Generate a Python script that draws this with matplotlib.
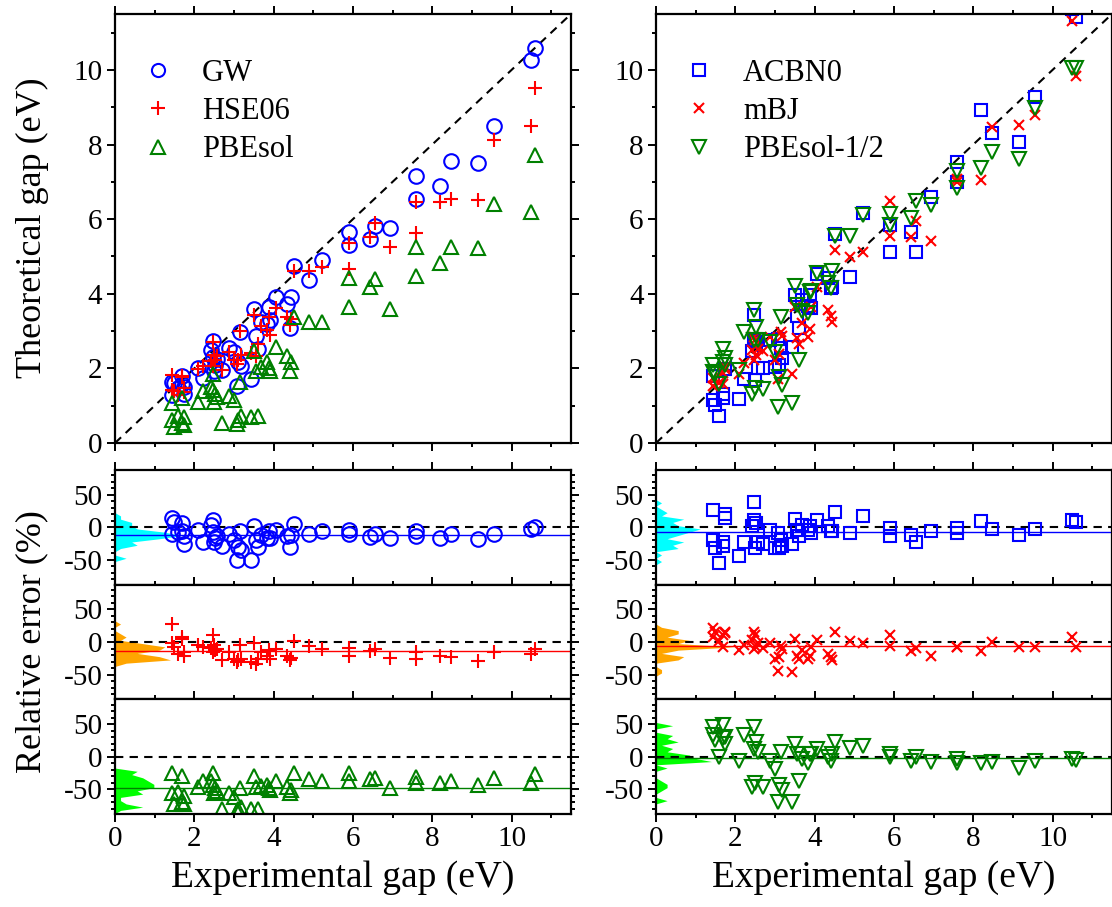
import numpy as np
import matplotlib
matplotlib.use("Agg")
import matplotlib.pyplot as plt
from matplotlib.ticker import MultipleLocator

plt.rcParams['font.family'] = ['Liberation Serif', 'DejaVu Serif']
plt.rcParams['axes.unicode_minus'] = False
plt.rcParams['font.size'] = 21

# experimental band gaps (eV)
exp_gap = np.array([1.43, 1.43, 1.49, 1.58, 1.69, 1.69, 1.74, 1.75, 2.09, 2.23,
                    2.42, 2.46, 2.47, 2.49, 2.53, 2.58, 2.70, 2.87, 3.00, 3.07,
                    3.09, 3.16, 3.18, 3.43, 3.51, 3.55, 3.60, 3.69, 3.83, 3.88,
                    3.92, 4.07, 4.34, 4.41, 4.44, 4.51, 4.90, 5.23, 5.90, 5.90,
                    6.42, 6.55, 6.93, 7.60, 7.60, 8.19, 8.48, 9.16, 9.55, 10.48,
                    10.58])

# relative errors (%) of each method, same order as exp_gap
err_gw = np.array([15, -10, 8, -7, 7, -6, -13, -25, -4, -22,
                   3, 11, -7, -22, -17, -13, -28, -11, -19, -50,
                   -30, -6, -35, -50, 2, -19, -30, -12, -17, -6,
                   -16, -4, -14, -30, -12, 5, -11, -6, -4, -10,
                   -15, -11, -17, -6, -14, -16, -11, -18, -11, -2,
                   0])
err_hse = np.array([28, -1, -7, -19, 5, 7, -21, -16, -5, -7,
                    -9, 10, -16, -5, -12, -10, -28, -15, -26, -31,
                    -28, -5, -26, -30, -2, -34, -26, -15, -21, -13,
                    -26, -11, -22, -28, -25, 2, -6, -10, -9, -21,
                    -14, -10, -24, -15, -26, -21, -23, -29, -15, -19,
                    -10])
err_pbesol = np.array([-25, -56, -72, -54, -29, -69, -72, -60, -47, -38,
                       -38, -25, -43, -56, -48, -52, -80, -56, -62, -83,
                       -80, -48, -77, -80, -30, -46, -80, -45, -43, -48,
                       -51, -37, -46, -56, -51, -25, -34, -38, -25, -38,
                       -35, -33, -48, -31, -41, -41, -38, -43, -33, -41,
                       -27])
err_acbn0 = np.array([26, -19, -32, -55, -22, -28, 21, 14, -44, -23,
                      2, 39, 12, -32, 7, -22, -26, -4, -32, -9,
                      -32, -19, -28, -25, 13, -4, -14, 4, -4, 2,
                      -8, 11, 2, -6, -6, 24, -9, 18, -1, -13,
                      -12, -22, -5, -1, -8, 9, -2, -12, -3, 11,
                      8])
err_mbj = np.array([22, 7, 16, 2, 11, -7, 14, 16, -12, -4,
                    3, 16, -10, 11, -7, -2, -9, -1, -26, -44,
                    -23, -6, -10, -46, 4, -21, -26, -13, -26, -21,
                    -7, 3, -18, -23, -27, 15, 2, -2, 10, -6,
                    -14, -9, -22, -7, -8, -14, 0, -7, -8, 8,
                    -7])
err_pbesol_half = np.array([46, 34, 25, 0, 49, 28, 20, 30, -6, 34,
                            -46, 45, 12, -41, 23, 7, -46, -6, -19, -69,
                            -43, 7, -51, -69, 20, 4, -38, -4, -9, 4,
                            4, 12, -1, -6, 4, 23, 13, 17, 4, -1,
                            -6, -1, -8, -4, -10, -10, -8, -17, -6, -4,
                            -5])

left_methods = [
    ('GW', err_gw, 'o', 10.5, '#0000ff', '#00ffff'),
    ('HSE06', err_hse, '+', 10.5, '#ff0000', '#ffa500'),
    ('PBEsol', err_pbesol, '^', 10.5, '#008000', '#00ff00'),
]
right_methods = [
    ('ACBN0', err_acbn0, 's', 9, '#0000ff', '#00ffff'),
    ('mBJ', err_mbj, 'x', 7.5, '#ff0000', '#ffa500'),
    ('PBEsol-1/2', err_pbesol_half, 'v', 10.5, '#008000', '#00ff00'),
]

W, H = 1112, 907
fig = plt.figure(figsize=(W / 100, H / 100), dpi=100)

XMAX = 11.5
bins = np.arange(-100, 101, 5)
hist_scale = 0.14  # eV per count


def style(ax):
    for s in ax.spines.values():
        s.set_linewidth(1.6)
    ax.tick_params(which='both', direction='out', top=True, right=True,
                   width=1.4, labelsize=21, pad=3)
    ax.tick_params(which='major', length=6)
    ax.tick_params(which='minor', length=3)


def draw_column(xpx, methods):
    x0 = xpx / W
    w = 456 / W
    # parity plot
    ax = fig.add_axes([x0, (H - 443) / H, w, 429 / H])
    ax.plot([0, XMAX], [0, XMAX], color='k', lw=1.5, ls=(0, (4, 3)))
    for name, err, mk, ms, col, _ in methods:
        theo = exp_gap * (1 + err / 100.0)
        filled = mk in ('+', 'x')
        ax.plot(exp_gap, theo, ls='none', marker=mk, ms=ms,
                mec=col, mfc=col if filled else 'none', mew=1.5, label=name)
    ax.set_xlim(0, XMAX)
    ax.set_ylim(0, XMAX)
    ax.xaxis.set_major_locator(MultipleLocator(2))
    ax.xaxis.set_minor_locator(MultipleLocator(1))
    ax.yaxis.set_major_locator(MultipleLocator(2))
    ax.yaxis.set_minor_locator(MultipleLocator(1))
    style(ax)
    ax.tick_params(labelbottom=False)
    ax.legend(loc='upper left', bbox_to_anchor=(0.0, 0.945), frameon=False,
              fontsize=22, handlelength=1.4, handletextpad=0.75,
              labelspacing=0.3, borderaxespad=0.3, markerscale=0.9)

    # relative error panels
    ph = 344 / 3
    for k, (name, err, mk, ms, col, fill) in enumerate(methods):
        bottom = 470 + ph * (k + 1)
        ea = fig.add_axes([x0, (H - bottom) / H, w, ph / H])
        counts, edges = np.histogram(err, bins)
        centers = 0.5 * (edges[1:] + edges[:-1])
        ea.fill_betweenx(centers, 0, counts * hist_scale, color=fill, lw=0)
        ea.axhline(0, color='k', lw=1.5, ls=(0, (4, 3)))
        ea.axhline(np.mean(err), color=col, lw=1)
        filled = mk in ('+', 'x')
        ea.plot(exp_gap, err, ls='none', marker=mk, ms=ms,
                mec=col, mfc=col if filled else 'none', mew=1.5)
        ea.set_xlim(0, XMAX)
        ea.set_ylim(-88, 88)
        ea.xaxis.set_major_locator(MultipleLocator(2))
        ea.xaxis.set_minor_locator(MultipleLocator(1))
        ea.yaxis.set_major_locator(MultipleLocator(50))
        ea.yaxis.set_minor_locator(MultipleLocator(10))
        style(ea)
        if k < 2:
            ea.tick_params(labelbottom=False)
        else:
            ea.set_xlabel('Experimental gap (eV)', fontsize=27, labelpad=6)


draw_column(115, left_methods)
draw_column(656, right_methods)

fig.text(32 / W, (H - 228) / H, 'Theoretical gap (eV)', rotation=90,
         ha='center', va='center', fontsize=26)
fig.text(32 / W, (H - 642) / H, 'Relative error (%)', rotation=90,
         ha='center', va='center', fontsize=26)

fig.savefig('out.png', dpi=100)
